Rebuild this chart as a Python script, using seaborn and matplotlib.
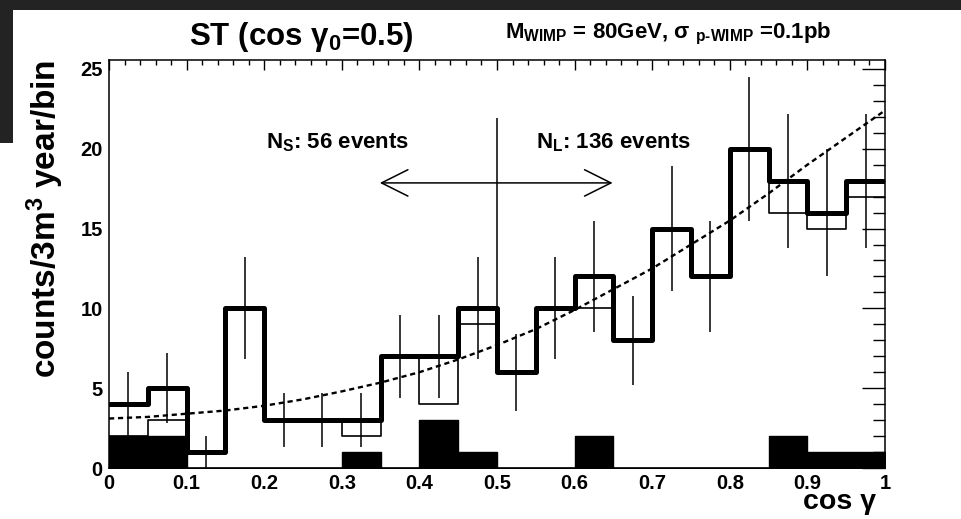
import numpy as np
import pandas as pd
import matplotlib
matplotlib.use("Agg")
import matplotlib.pyplot as plt
import seaborn as sns
from matplotlib.patches import Rectangle
from matplotlib.ticker import MultipleLocator

# ---------------- data ----------------
bin_edges = [0.0, 0.05, 0.1, 0.15, 0.2, 0.25, 0.3, 0.35, 0.4, 0.45, 0.5,
             0.55, 0.6, 0.65, 0.7, 0.75, 0.8, 0.85, 0.9, 0.95, 1.0]
bin_centers = [0.025, 0.075, 0.125, 0.175, 0.225, 0.275, 0.325, 0.375, 0.425, 0.475,
               0.525, 0.575, 0.625, 0.675, 0.725, 0.775, 0.825, 0.875, 0.925, 0.975]
total_counts = [4, 5, 1, 10, 3, 3, 3, 7, 7, 10, 6, 10, 12, 8, 15, 12, 20, 18, 16, 18]
signal_counts = [2, 3, 1, 10, 3, 3, 2, 7, 4, 9, 6, 10, 10, 8, 15, 12, 20, 16, 15, 17]
background_counts = [2, 2, 0, 0, 0, 0, 1, 0, 3, 1, 0, 0, 2, 0, 0, 0, 0, 2, 1, 1]
error_half = [2.0, 2.2, 1.0, 3.2, 1.7, 1.7, 1.7, 2.6, 2.6, 3.2,
              2.4, 3.2, 3.5, 2.8, 3.9, 3.5, 4.5, 4.2, 4.0, 4.2]
curve_x = [0.0, 0.05, 0.1, 0.15, 0.2, 0.25, 0.3, 0.35, 0.4, 0.45, 0.5,
           0.55, 0.6, 0.65, 0.7, 0.75, 0.8, 0.85, 0.9, 0.95, 1.0]
curve_y = [3.1, 3.2, 3.4, 3.6, 3.9, 4.3, 4.8, 5.35, 6.0, 6.8, 7.7,
           8.7, 9.9, 11.2, 12.5, 14.0, 15.5, 17.2, 19.0, 20.7, 22.4]
x_ticks = [0.0, 0.1, 0.2, 0.3, 0.4, 0.5, 0.6, 0.7, 0.8, 0.9, 1.0]
x_tick_labels = ["0", "0.1", "0.2", "0.3", "0.4", "0.5", "0.6", "0.7", "0.8", "0.9", "1"]
y_ticks = [0, 5, 10, 15, 20, 25]
y_tick_labels = ["0", "5", "10", "15", "20", "25"]

df = pd.DataFrame({"center": bin_centers, "total": total_counts,
                   "signal": signal_counts, "bkg": background_counts})

# ---------------- style ----------------
sns.set_style("white")
plt.rcParams["font.family"] = ["Liberation Sans", "DejaVu Sans"]
plt.rcParams["font.weight"] = "bold"
plt.rcParams["text.color"] = "black"
plt.rcParams["axes.labelcolor"] = "black"
plt.rcParams["xtick.color"] = "black"
plt.rcParams["ytick.color"] = "black"
plt.rcParams["mathtext.fontset"] = "custom"
plt.rcParams["mathtext.rm"] = "Liberation Sans:bold"
plt.rcParams["mathtext.it"] = "Liberation Sans:bold"
plt.rcParams["mathtext.bf"] = "Liberation Sans:bold"
plt.rcParams["mathtext.sf"] = "Liberation Sans:bold"

W, H = 961, 519
fig = plt.figure(figsize=(W / 100, H / 100), dpi=100, facecolor="#232323")
# white page with dark border strips (top and upper-left)
fig.patches.append(Rectangle((13 / W, 0), 1 - 13 / W, 1 - 10 / H,
                             transform=fig.transFigure, facecolor="white",
                             edgecolor="none", zorder=-5))
fig.patches.append(Rectangle((0, 0), 14 / W, (H - 143) / H,
                             transform=fig.transFigure, facecolor="white",
                             edgecolor="none", zorder=-5))

ax = fig.add_axes([109 / W, 1 - 468 / H, (885 - 109) / W, (468 - 60) / H])
ax.set_zorder(2)
ax.set_facecolor("white")

# background (filled)
sns.histplot(data=df, x="center", weights="bkg", bins=bin_edges, element="step",
             fill=True, color="black", alpha=1.0, linewidth=1.0, ax=ax, zorder=2)
# signal only (thin)
sns.histplot(data=df, x="center", weights="signal", bins=bin_edges, element="step",
             fill=False, color="black", linewidth=1.2, ax=ax, zorder=3)
# total (thick)
sns.histplot(data=df, x="center", weights="total", bins=bin_edges, element="step",
             fill=False, color="black", linewidth=3.6, ax=ax, zorder=4)
# error bars
ax.errorbar(bin_centers, total_counts, yerr=error_half, fmt="none",
            ecolor="black", elinewidth=1.1, capsize=0, zorder=5)
# expected curve (dashed)
sns.lineplot(x=curve_x, y=curve_y, ax=ax, color="black", linewidth=1.7,
             linestyle=(0, (2.2, 1.6)), zorder=6)

# divider at cos gamma0 and arrow
ax.vlines(0.5, 10, 21.9, color="black", linewidth=1.1, zorder=5)
ax.annotate("", xy=(0.349, 17.86), xytext=(0.649, 17.86),
            arrowprops=dict(arrowstyle="<->,head_length=1.9,head_width=0.95",
                            color="black", linewidth=1.1, shrinkA=0, shrinkB=0),
            zorder=7)
ax.text(0.294, 20.4, "N$_S$: 56 events", ha="center", va="center",
        fontsize=16, fontweight="bold")
ax.text(0.650, 20.4, "N$_L$: 136 events", ha="center", va="center",
        fontsize=16, fontweight="bold")

# axes
ax.set_xlim(0, 1)
ax.set_ylim(0, 25.56)
ax.set_xticks(x_ticks)
ax.set_xticklabels(x_tick_labels)
ax.set_yticks(y_ticks)
ax.set_yticklabels(y_tick_labels)
ax.xaxis.set_minor_locator(MultipleLocator(0.02))
ax.yaxis.set_minor_locator(MultipleLocator(1))
ax.tick_params(axis="both", which="both", direction="in", top=True, right=True,
               colors="black", width=1.0, labelsize=14.5)
ax.tick_params(axis="x", which="major", length=7.5, pad=4.0)
ax.tick_params(axis="x", which="minor", length=3.8)
ax.tick_params(axis="y", which="major", length=16.5, pad=4.5)
ax.tick_params(axis="y", which="minor", length=8.6)
for lab in ax.get_xticklabels() + ax.get_yticklabels():
    lab.set_fontweight("bold")
for sp in ax.spines.values():
    sp.set_color("black")
    sp.set_linewidth(1.1)
    sp.set_visible(True)

ax.set_xlabel("cos γ", fontsize=20.5, fontweight="bold", ha="right")
ax.xaxis.set_label_coords(0.988, -0.052)
ax.set_ylabel("counts/3m$^3$ year/bin", fontsize=24, fontweight="bold", ha="right")
ax.yaxis.set_label_coords(-0.056, 1.0)

fig.text(0.314, 1 - 45 / H, "ST (cos γ$_0$=0.5)", ha="center", va="baseline",
         fontsize=22.5, fontweight="bold")
fig.text(505 / W, 1 - 38 / H,
         r"M$_{\mathrm{WIMP}}$ = 80GeV, σ $_{\mathrm{p}\text{-}\mathrm{WIMP}}$ =0.1pb",
         ha="left", va="baseline", fontsize=16, fontweight="bold")

fig.savefig("out.png", dpi=100, facecolor=fig.get_facecolor())
